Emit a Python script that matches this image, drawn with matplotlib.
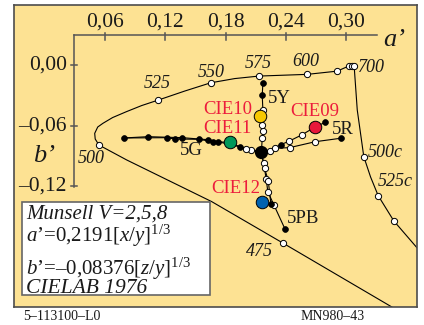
import matplotlib
matplotlib.use('Agg')
import matplotlib.pyplot as plt
from matplotlib.patches import Rectangle

plt.rcParams['font.family'] = ['Liberation Serif', 'DejaVu Serif']
plt.rcParams['mathtext.fontset'] = 'custom'
plt.rcParams['mathtext.rm'] = 'Liberation Serif'
plt.rcParams['mathtext.it'] = 'Liberation Serif:italic'

# spectral locus (a', b'), from bottom right round to 700 nm
locus_a = [0.3725, 0.3447, 0.2366, 0.1662, 0.0818, 0.0543, 0.0506, 0.0501, 0.0531, 0.0583,
           0.0679, 0.0815, 0.0967, 0.1133, 0.1394, 0.1652, 0.1890, 0.2131, 0.2611, 0.2908,
           0.3028, 0.3052, 0.3076]
locus_b = [-0.2568, -0.2398, -0.1763, -0.1353, -0.0939, -0.0791, -0.0731, -0.0675, -0.0612, -0.0575,
           -0.0518, -0.0460, -0.0399, -0.0344, -0.0255, -0.0173, -0.0131, -0.0106, -0.0089, -0.0057,
           -0.0004, -0.0002, -0.0004]
# wavelength marks on the locus: 475, 500, 525, 550, 575, 600, 650, 675, 690, 700
locus_mark_a = [0.2366, 0.0543, 0.1133, 0.1652, 0.2131, 0.2611, 0.2908, 0.3028, 0.3052, 0.3076]
locus_mark_b = [-0.1763, -0.0791, -0.0344, -0.0173, -0.0106, -0.0089, -0.0057, -0.0004, -0.0002, -0.0004]

# purple line (compensation wavelengths)
purple_a = [0.3076, 0.3107, 0.3172, 0.3239, 0.3315, 0.3470, 0.3695, 0.3775]
purple_b = [-0.0004, -0.0443, -0.0907, -0.1108, -0.1294, -0.1545, -0.1806, -0.1892]
purple_mark_a = [0.3172, 0.3315, 0.3470]
purple_mark_b = [-0.0907, -0.1294, -0.1545]

# Munsell hue lines, starting at the grey point
grey_a, grey_b = 0.2155, -0.0863
arm_5y_a = [0.2164, 0.2170, 0.2158, 0.2170, 0.2164, 0.2170]
arm_5y_b = [-0.0724, -0.0652, -0.0592, -0.0443, -0.0295, -0.0179]
arm_5r1_a = [0.2237, 0.2346, 0.2428, 0.2561, 0.2683, 0.2790]
arm_5r1_b = [-0.0847, -0.0788, -0.0754, -0.0688, -0.0615, -0.0565]
arm_5r2_a = [0.2293, 0.2435, 0.2690, 0.2941]
arm_5r2_b = [-0.0823, -0.0817, -0.0758, -0.0724]
arm_5g1_a = [0.2055, 0.2006, 0.1939, 0.1724, 0.1625, 0.1371, 0.1030, 0.0788]
arm_5g1_b = [-0.0840, -0.0830, -0.0808, -0.0758, -0.0738, -0.0718, -0.0708, -0.0721]
arm_5g2_a = [0.1939, 0.1840, 0.1674, 0.1533, 0.1294, 0.1218, 0.0788]
arm_5g2_b = [-0.0808, -0.0764, -0.0758, -0.0734, -0.0731, -0.0718, -0.0721]
arm_5pb1_a = [0.2177, 0.2204, 0.2219, 0.2389]
arm_5pb1_b = [-0.0972, -0.1131, -0.1254, -0.1624]
arm_5pb2_a = [0.2187, 0.2224, 0.2250, 0.2284]
arm_5pb2_b = [-0.1022, -0.1148, -0.1379, -0.1386]
arms = [(arm_5y_a, arm_5y_b), (arm_5r1_a, arm_5r1_b), (arm_5r2_a, arm_5r2_b),
        (arm_5g1_a, arm_5g1_b), (arm_5g2_a, arm_5g2_b),
        (arm_5pb1_a, arm_5pb1_b), (arm_5pb2_a, arm_5pb2_b)]

dark_a = [0.2164, 0.2170, 0.2346, 0.2790, 0.2941, 0.1939, 0.1724, 0.1674, 0.1625, 0.1533,
          0.1371, 0.1294, 0.1218, 0.1030, 0.0788, 0.2389, 0.2250]
dark_b = [-0.0295, -0.0179, -0.0788, -0.0565, -0.0724, -0.0808, -0.0758, -0.0758, -0.0738, -0.0734,
          -0.0718, -0.0731, -0.0718, -0.0708, -0.0721, -0.1624, -0.1379]
light_a = [0.2164, 0.2170, 0.2158, 0.2170, 0.2237, 0.2428, 0.2561, 0.2293, 0.2435, 0.2690,
           0.2055, 0.2006, 0.2177, 0.2187, 0.2204, 0.2224, 0.2219, 0.2284]
light_b = [-0.0724, -0.0652, -0.0592, -0.0443, -0.0847, -0.0754, -0.0688, -0.0823, -0.0817, -0.0758,
           -0.0840, -0.0830, -0.0972, -0.1022, -0.1131, -0.1148, -0.1254, -0.1386]

cie_names = ['CIE09', 'CIE10', 'CIE11', 'CIE12']
cie_a = [0.2683, 0.2145, 0.1840, 0.2164]
cie_b = [-0.0615, -0.0503, -0.0764, -0.1359]
cie_colors = ['#e8173a', '#f6c800', '#00985a', '#0062b0']

xticks = [0.06, 0.12, 0.18, 0.24, 0.30]
xtick_labels = ['0,06', '0,12', '0,18', '0,24', '0,30']
yticks = [0.00, -0.06, -0.12]
ytick_labels = ['0,00', '–0,06', '–0,12']

txt = '#1a1a1a'
red = '#ec1c3c'
axc = '#555555'

fig = plt.figure(figsize=(4.24, 3.25), dpi=100)
ax = fig.add_axes([14 / 424, 18 / 325, 403 / 424, 302 / 325])
ax.set_facecolor('#fde293')
ax.set_xlim(-0.03, 0.37)
ax.set_ylim(-0.24, 0.06)
ax.set_xticks([])
ax.set_yticks([])
for s in ax.spines.values():
    s.set_color('#4d4d4d')
    s.set_linewidth(1.2)

# axes drawn inside the panel
ax.plot([0.03, 0.33], [0.03, 0.03], color=axc, lw=1.1)
ax.plot([0.03, 0.03], [0.03, -0.121], color=axc, lw=1.1)
for t, lab in zip(xticks, xtick_labels):
    ax.plot([t, t], [0.032, 0.025], color=axc, lw=1.1)
    ax.text(t, 0.0435, lab, ha='center', va='center', fontsize=15.5, color=txt)
for t, lab in zip(yticks, ytick_labels):
    ax.plot([0.027, 0.033], [t, t], color=axc, lw=1.1)
    ax.text(0.0226, t, lab, ha='right', va='center', fontsize=15.5, color=txt)
ax.text(0.3477, 0.0251, 'a’', ha='center', va='center', fontsize=19, style='italic', color=txt)
ax.text(-0.0005, -0.090, 'b’', ha='center', va='center', fontsize=19, style='italic', color=txt)

# locus and purple line
ax.plot(locus_a, locus_b, color='k', lw=0.8)
ax.plot(purple_a, purple_b, color='k', lw=0.8)
ax.plot(locus_mark_a, locus_mark_b, 'o', ms=4.5, mfc='white', mec='k', mew=0.7)
ax.plot(purple_mark_a, purple_mark_b, 'o', ms=4.5, mfc='white', mec='k', mew=0.7)

wl_labels = ['475', '500', '525', '550', '575', '600']
wl_pos = [(0.2133, -0.1849), (0.0466, -0.092), (0.1121, -0.0176),
          (0.1657, -0.0071), (0.2125, 0.002), (0.2594, 0.0043)]
for lab, (x, y) in zip(wl_labels, wl_pos):
    ax.text(x, y, lab, ha='center', va='center', fontsize=13, style='italic', color=txt)
ax.text(0.3117, -0.0017, '700', ha='left', va='center', fontsize=13, style='italic', color=txt)
ax.text(0.3209, -0.0865, '500c', ha='left', va='center', fontsize=13, style='italic', color=txt)
ax.text(0.3308, -0.1155, '525c', ha='left', va='center', fontsize=13, style='italic', color=txt)

# Munsell hue lines
for a, b in arms:
    ax.plot([grey_a] + a, [grey_b] + b, color='k', lw=0.8, zorder=3)
ax.plot(light_a, light_b, 'o', ms=4.5, mfc='white', mec='k', mew=0.7, zorder=4)
ax.plot(dark_a, dark_b, 'o', ms=4.2, mfc='k', mec='k', mew=0.5, zorder=4)
ax.plot(grey_a, grey_b, 'o', ms=8.5, mfc='k', mec='k', zorder=5)
for a, b, c in zip(cie_a, cie_b, cie_colors):
    ax.plot(a, b, 'o', ms=9, mfc=c, mec='k', mew=0.7, zorder=6)

ax.text(0.2217, -0.0329, '5Y', ha='left', va='center', fontsize=13.5, color=txt)
ax.text(0.2852, -0.0632, '5R', ha='left', va='center', fontsize=13.5, color=txt)
ax.text(0.1351, -0.0845, '5G', ha='left', va='center', fontsize=13.5, color=txt)
ax.text(0.2406, -0.1525, '5PB', ha='left', va='center', fontsize=13.5, color=txt)

cie_label_pos = [(0.2445, -0.0460), (0.1582, -0.0434), (0.1582, -0.0625), (0.1658, -0.1227)]
for name, (x, y) in zip(cie_names, cie_label_pos):
    ax.text(x, y, name, ha='left', va='center', fontsize=13.5, color=red)

# legend box
ax.add_patch(Rectangle((-0.0223, -0.2282), 0.1871, 0.0926, facecolor='white',
                       edgecolor='#666666', lw=1.2, zorder=7))
ax.text(-0.0181, -0.1522, 'Munsell V=2,5,8', ha='left', va='baseline', fontsize=15,
        style='italic', color=txt, zorder=8)
ax.text(-0.0181, -0.1755, '$a$’=0,2191[$x$/$y$]$^{1/3}$', ha='left', va='baseline',
        fontsize=15, color=txt, zorder=8)
ax.text(-0.0181, -0.2085, '$b$’=–0,08376[$z$/$y$]$^{1/3}$', ha='left', va='baseline',
        fontsize=15, color=txt, zorder=8)
ax.text(-0.0181, -0.2259, 'CIELAB 1976', ha='left', va='baseline', fontsize=15.5,
        style='italic', color=txt, zorder=8)

fig.text(0.054, 0.0255, '5–113100–L0', ha='left', va='center', fontsize=10, color=txt)
fig.text(0.785, 0.0255, 'MN980–43', ha='center', va='center', fontsize=10, color=txt)

fig.savefig('out.png', dpi=100)
